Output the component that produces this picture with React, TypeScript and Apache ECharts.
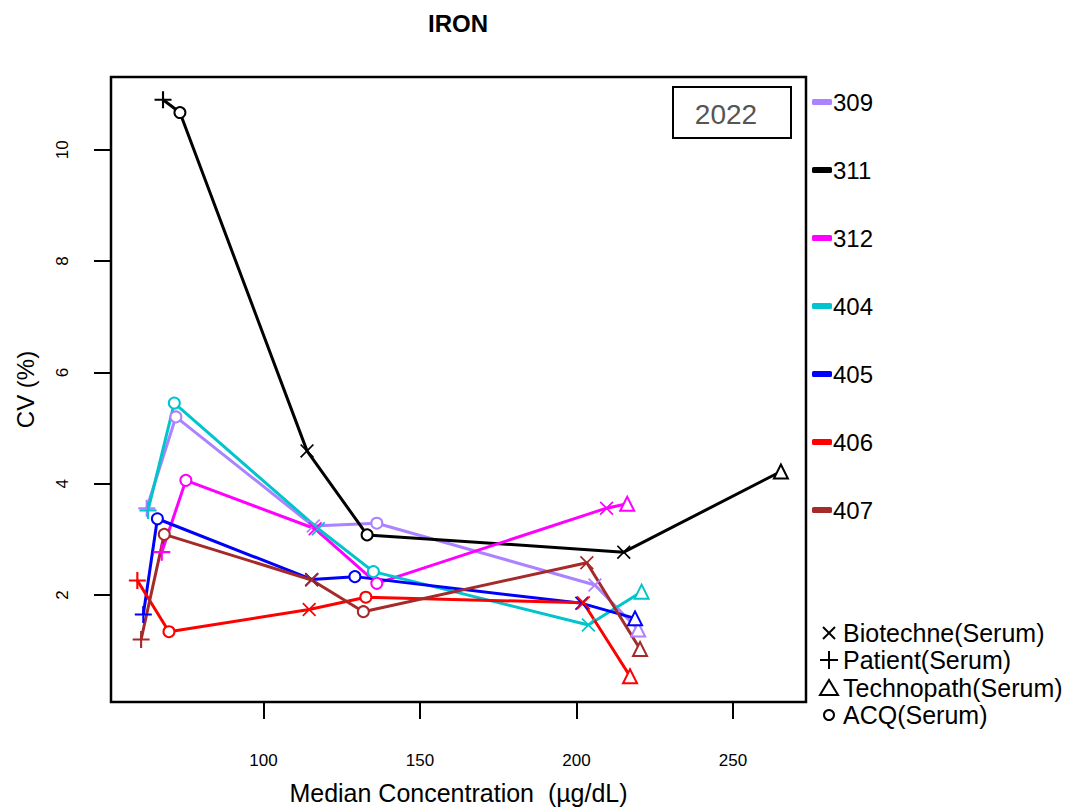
import React, { useEffect, useRef } from "react";
import * as echarts from "echarts";

const labs = ["309", "311", "312", "404", "405", "406", "407"];
const labColors = ["#AB82FF", "#000000", "#FF00FF", "#00C5CD", "#0000FF", "#FF0000", "#A52A2A"];
// material of each point, in order of increasing concentration
const pointMaterials = ["Patient", "ACQ", "Biotechne", "ACQ", "Biotechne", "Technopath"];

const x309 = [62.7, 72.0, 115.9, 136.2, 205.9, 219.7];
const y309 = [3.56, 5.2, 3.24, 3.29, 2.18, 1.38];
const x311 = [67.9, 73.3, 113.9, 133.1, 215.1, 265.3];
const y311 = [10.9, 10.67, 4.59, 3.08, 2.77, 4.22];
const x312 = [67.5, 75.2, 116.5, 136.2, 209.6, 216.2];
const y312 = [2.77, 4.06, 3.19, 2.21, 3.56, 3.64];
const x404 = [63.1, 71.5, 117.5, 135.1, 203.8, 220.8];
const y404 = [3.52, 5.45, 3.19, 2.42, 1.46, 2.06];
const x405 = [61.6, 66.1, 115.4, 129.2, 201.7, 218.7];
const y405 = [1.65, 3.37, 2.28, 2.33, 1.85, 1.58];
const x406 = [59.7, 69.8, 114.6, 132.7, 202.2, 217.1];
const y406 = [2.26, 1.34, 1.74, 1.96, 1.86, 0.54];
const x407 = [60.9, 68.3, 115.4, 131.9, 203.3, 220.3];
const y407 = [1.2, 3.09, 2.27, 1.7, 2.58, 1.03];

const xsByLab = [x309, x311, x312, x404, x405, x406, x407];
const ysByLab = [y309, y311, y312, y404, y405, y406, y407];

const xTicks = [100, 150, 200, 250];
const yTicks = [2, 4, 6, 8, 10];

const materialLegend = ["Biotechne(Serum)", "Patient(Serum)", "Technopath(Serum)", "ACQ(Serum)"];
const materialKeys = ["Biotechne", "Patient", "Technopath", "ACQ"];

const title = "IRON";
const yearLabel = "2022";
const xName = "Median Concentration  (\u00b5g/dL)";
const yName = "CV (%)";

const FONT = "Liberation Sans, Arial, sans-serif";

const PLUS_PATH =
  "path://M-1,-8 L1,-8 L1,-1 L8,-1 L8,1 L1,1 L1,8 L-1,8 L-1,1 L-8,1 L-8,-1 L-1,-1 Z";
const CROSS_PATH =
  "path://M-8,-6.6 L-6.6,-8 L0,-1.4 L6.6,-8 L8,-6.6 L1.4,0 L8,6.6 L6.6,8 L0,1.4 L-6.6,8 L-8,6.6 L-1.4,0 Z";

function symbolFor(material: string) {
  if (material === "Patient") return { symbol: PLUS_PATH, symbolSize: 17, bw: 0 };
  if (material === "Biotechne") return { symbol: CROSS_PATH, symbolSize: 14, bw: 0 };
  if (material === "Technopath") return { symbol: "emptyTriangle", symbolSize: 14, bw: 2 };
  return { symbol: "emptyCircle", symbolSize: 11, bw: 2 };
}

export default function App() {
  const ref = useRef<HTMLDivElement>(null);

  useEffect(() => {
    if (!ref.current) return;
    const chart = echarts.init(ref.current, null, { renderer: "svg" });

    const series = labs.map((lab, i) => ({
      name: lab,
      type: "line",
      color: labColors[i],
      lineStyle: { color: labColors[i], width: 3 },
      itemStyle: { color: labColors[i], borderColor: labColors[i] },
      showAllSymbol: true,
      data: xsByLab[i].map((x, j) => {
        const s = symbolFor(pointMaterials[j]);
        return {
          value: [x, ysByLab[i][j]],
          symbol: s.symbol,
          symbolSize: s.symbolSize,
          itemStyle: { color: labColors[i], borderColor: labColors[i], borderWidth: s.bw },
        };
      }),
    }));

    // legend of point shapes (bottom right)
    const symX = 829;
    const rowY = [633, 660, 688, 715];
    const shapeGraphics: any[] = [];
    materialKeys.forEach((m, k) => {
      const cy = rowY[k];
      const st = { stroke: "#000", lineWidth: 2, fill: "none" };
      if (m === "Biotechne") {
        shapeGraphics.push({ type: "line", shape: { x1: symX - 6, y1: cy - 6, x2: symX + 6, y2: cy + 6 }, style: st });
        shapeGraphics.push({ type: "line", shape: { x1: symX - 6, y1: cy + 6, x2: symX + 6, y2: cy - 6 }, style: st });
      } else if (m === "Patient") {
        shapeGraphics.push({ type: "line", shape: { x1: symX - 9, y1: cy, x2: symX + 9, y2: cy }, style: st });
        shapeGraphics.push({ type: "line", shape: { x1: symX, y1: cy - 9, x2: symX, y2: cy + 9 }, style: st });
      } else if (m === "Technopath") {
        shapeGraphics.push({
          type: "polygon",
          shape: { points: [[symX - 9, cy + 7], [symX + 9, cy + 7], [symX, cy - 8]] },
          style: st,
        });
      } else {
        shapeGraphics.push({ type: "circle", shape: { cx: symX, cy, r: 5 }, style: st });
      }
      shapeGraphics.push({
        type: "text",
        x: 843,
        y: cy,
        style: {
          text: materialLegend[k],
          font: `25px ${FONT}`,
          fill: "#000",
          textVerticalAlign: "middle",
          verticalAlign: "middle",
        },
      });
    });

    const option: any = {
      animation: false,
      backgroundColor: "#ffffff",
      textStyle: { fontFamily: FONT },
      title: {
        text: title,
        left: 428,
        top: 11,
        padding: 0,
        textStyle: { fontFamily: FONT, fontSize: 24, fontWeight: "bold", color: "#000" },
      },
      legend: {
        orient: "vertical",
        left: 812,
        top: 90,
        padding: 0,
        itemWidth: 20,
        itemHeight: 6,
        itemGap: 44,
        icon: "roundRect",
        itemStyle: { borderWidth: 0 },
        textStyle: { fontFamily: FONT, fontSize: 24, lineHeight: 24, color: "#000", padding: [0, 0, 0, -4] },
        data: labs,
        selectedMode: false,
      },
      grid: {
        left: 111,
        top: 77,
        width: 695,
        height: 629,
        show: true,
        borderColor: "#000",
        borderWidth: 2.5,
        containLabel: false,
      },
      xAxis: {
        type: "value",
        min: 51.28,
        max: 273.32,
        name: xName,
        nameLocation: "middle",
        nameGap: 78,
        nameTextStyle: { fontFamily: FONT, fontSize: 25, color: "#000" },
        axisLine: { show: false },
        splitLine: { show: false },
        axisTick: {
          show: true,
          length: 17,
          lineStyle: { color: "#000", width: 2 },
          customValues: xTicks,
        },
        axisLabel: {
          customValues: xTicks,
          margin: 50,
          fontFamily: FONT,
          fontSize: 17,
          color: "#000",
        },
      },
      yAxis: {
        type: "value",
        min: 0.077,
        max: 11.309,
        name: yName,
        nameLocation: "middle",
        nameGap: 74,
        nameRotate: 90,
        nameTextStyle: { fontFamily: FONT, fontSize: 24, color: "#000" },
        axisLine: { show: false },
        splitLine: { show: false },
        axisTick: {
          show: true,
          length: 17,
          lineStyle: { color: "#000", width: 2 },
          customValues: yTicks,
        },
        axisLabel: {
          customValues: yTicks,
          rotate: 90,
          margin: 40,
          fontFamily: FONT,
          fontSize: 17,
          color: "#000",
        },
      },
      graphic: [
        {
          type: "rect",
          shape: { x: 673, y: 87, width: 118, height: 51 },
          style: { stroke: "#000", lineWidth: 2, fill: "#fff" },
          z: 10,
        },
        {
          type: "text",
          x: 726,
          y: 114,
          z: 11,
          style: {
            text: yearLabel,
            font: `28px ${FONT}`,
            fill: "#555555",
            align: "center",
            verticalAlign: "middle",
            textAlign: "center",
            textVerticalAlign: "middle",
          },
        },
        ...shapeGraphics,
      ],
      series,
    };

    chart.setOption(option);
    return () => chart.dispose();
  }, []);

  return (
    <div
      ref={ref}
      style={{ position: "fixed", left: 0, top: 0, width: 1069, height: 810, background: "#fff" }}
    />
  );
}
